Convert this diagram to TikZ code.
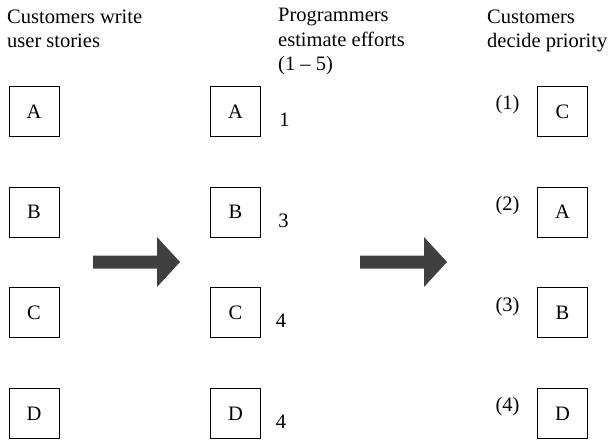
\documentclass[tikz,border=0pt]{standalone}
\usepackage{fontspec}
\setmainfont{Liberation Serif}
\definecolor{arrowgray}{HTML}{404040}

\begin{document}
\begin{tikzpicture}[x=1pt, y=1pt, node distance=100.67pt,
  font=\fontsize{20.5}{24.5}\selectfont,
  story/.style={draw, rectangle, line width=0.9pt, minimum size=50pt, inner sep=0pt},
  heading/.style={anchor=base west, inner sep=0pt, align=left},
  bigarrow/.style={fill=arrowgray}]

\useasboundingbox (0,0) rectangle (612,-440);

% column headings (anchored at the last line)
\node (headwrite) [heading] at (7,-47.5) {Customers write\\user stories};
\node (headestimate) [heading] at (278,-70.5) {Programmers\\estimate efforts\\(1 -- 5)};
\node (headpriority) [heading] at (487,-47.5) {Customers\\decide priority};

% user stories
\node (writeA) [story] at (34,-111.5) {A};
\node (writeB) [story, below of=writeA] {B};
\node (writeC) [story, below of=writeB] {C};
\node (writeD) [story, below of=writeC] {D};

% estimated stories
\node (estA) [story] at (235.5,-111.5) {A};
\node (estB) [story, below of=estA] {B};
\node (estC) [story, below of=estB] {C};
\node (estD) [story, below of=estC] {D};

\node (effortA) [right of=estA, node distance=49pt, yshift=-8pt] {1};
\node (effortB) [right of=estB, node distance=48pt, yshift=-9pt] {3};
\node (effortC) [right of=estC, node distance=45.5pt, yshift=-8pt] {4};
\node (effortD) [right of=estD, node distance=45.5pt, yshift=-8.5pt] {4};

% prioritised stories
\node (prioC) [story] at (562.5,-111.5) {C};
\node (prioA) [story, below of=prioC] {A};
\node (prioB) [story, below of=prioA] {B};
\node (prioD) [story, below of=prioB] {D};

\node (rankC) [left of=prioC, node distance=55pt, yshift=6.5pt] {(1)};
\node (rankA) [left of=prioA, node distance=55pt, yshift=6.5pt] {(2)};
\node (rankB) [left of=prioB, node distance=55pt, yshift=6.5pt] {(3)};
\node (rankD) [left of=prioD, node distance=55pt, yshift=6.5pt] {(4)};

% block arrows
\fill[bigarrow] (93,-255.5) -- (157,-255.5) -- (157,-237) -- (180,-262)
  -- (157,-287) -- (157,-268.5) -- (93,-268.5) -- cycle;
\fill[bigarrow] (360,-255.5) -- (424,-255.5) -- (424,-237) -- (447,-262)
  -- (424,-287) -- (424,-268.5) -- (360,-268.5) -- cycle;

\end{tikzpicture}
\end{document}
